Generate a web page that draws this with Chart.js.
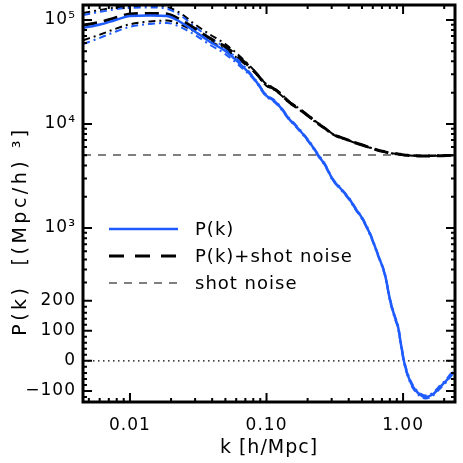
<!DOCTYPE html>
<html>
<head>
<meta charset="utf-8">
<script src="https://cdn.jsdelivr.net/npm/chart.js"></script>
<style>
  html, body { margin: 0; padding: 0; background: #fff; }
  canvas { display: block; }
</style>
</head>
<body>
<canvas id="pkChart" width="463" height="463"></canvas>
<script>
// --- data ---
const K = [0.00455, 0.00603, 0.00776, 0.0100, 0.0140, 0.0187, 0.0232, 0.0299, 0.0386, 0.0497,
           0.0673, 0.0824, 0.100, 0.1116, 0.1256, 0.1486, 0.1618, 0.2084, 0.2384, 0.2683,
           0.3070, 0.3455, 0.4090, 0.4450, 0.5008, 0.5731, 0.6558, 0.7382, 0.8031, 0.8739,
           0.9192, 0.9667, 1.017, 1.070, 1.125, 1.184, 1.288, 1.450, 1.632, 1.867, 2.101, 2.325];

const P_K = [83700, 90200, 99300, 109000, 110400, 109000, 96000, 77400, 61400, 50400,
             35300, 26500, 18600, 17000, 14600, 10900, 9780, 6560, 5035, 4035,
             2895, 2425, 1860, 1557, 1247, 875, 550, 353, 203, 143,
             113, 53, -3, -40, -67, -87, -107, -120, -113, -87, -63, -37];

const P_SHOT = [88740, 95240, 104340, 114040, 115440, 114040, 101040, 82440, 66440, 55440,
                40340, 31540, 23640, 22040, 19640, 15940, 14820, 11600, 10075, 9075,
                7935, 7465, 6900, 6597, 6287, 5915, 5590, 5393, 5243, 5183,
                5153, 5093, 5037, 5000, 4973, 4953, 4933, 4920, 4927, 4953, 4977, 5003];

const P_K_HI = [111600, 119400, 126200, 130400, 131800, 127600, 111600, 85700, 67200, 53800,
                36900, 27000, 19000, 17350, 14900, 11100, 9980, 6690, 5140, 4120,
                2950, 2470, 1900, 1590, 1270, 895, 560, 360, 208, 148,
                118, 58, 2, -35, -62, -82, -102, -115, -108, -82, -58, -32];

const P_K_LO = [58700, 67200, 76700, 85700, 91500, 93600, 85700, 71800, 57500, 47100,
                33800, 26000, 18200, 16650, 14300, 10700, 9580, 6430, 4930, 3950,
                2840, 2380, 1820, 1525, 1220, 855, 540, 346, 198, 138,
                108, 48, -8, -45, -72, -92, -112, -125, -118, -92, -68, -42];

const P_SHOT_HI = [116640, 124440, 131240, 135440, 136840, 132640, 116640, 90740, 72240, 58840,
                   41940, 32040, 24040, 22390, 19940, 16140, 15020, 11730, 10180, 9160,
                   7990, 7510, 6940, 6630, 6310, 5935, 5600, 5400, 5248, 5188,
                   5158, 5098, 5042, 5005, 4978, 4958, 4938, 4925, 4932, 4958, 4982, 5008];

const P_SHOT_LO = [63740, 72240, 81740, 90740, 96540, 98640, 90740, 76840, 62540, 52140,
                   38840, 31040, 23240, 21690, 19340, 15740, 14620, 11470, 9970, 8990,
                   7880, 7420, 6860, 6565, 6260, 5895, 5580, 5386, 5238, 5178,
                   5148, 5088, 5032, 4995, 4968, 4948, 4928, 4915, 4922, 4948, 4972, 4998];

const SHOT_NOISE = 5040;

const X_RANGE = [0.00453, 2.40];
const Y_RANGE = [-137, 139000];

const X_TICKS = [0.01, 0.1, 1];
const X_TICK_LABELS = ['0.01', '0.10', '1.00'];
const X_MINOR = [0.005, 0.006, 0.007, 0.008, 0.009, 0.02, 0.03, 0.04, 0.05, 0.06, 0.07, 0.08, 0.09,
                 0.2, 0.3, 0.4, 0.5, 0.6, 0.7, 0.8, 0.9, 2];

const Y_TICKS = [-100, 0, 100, 200, 1000, 10000, 100000];
const Y_TICK_LABELS = ['\u2212100', '0', '100', '200', '10\u00b3', '10\u2074', '10\u2075'];
const Y_MINOR = [-120, -80, -60, -40, -20, 20, 40, 60, 80, 120, 140, 160, 180,
                 300, 400, 500, 600, 700, 800, 900,
                 2000, 3000, 4000, 5000, 6000, 7000, 8000, 9000,
                 20000, 30000, 40000, 50000, 60000, 70000, 80000, 90000];

const LEGEND_LABELS = ['P(k)', 'P(k)+shot noise', 'shot noise'];

const BLUE = '#1f5cff';
const FONT = 'DejaVu Sans';

// linear below 200, logarithmic above (same look as the original axis)
const BREAK = 200;
const LIN_K = 0.0028846;
function tf(v) {
  return v >= BREAK ? Math.log10(v / BREAK) : (v - BREAK) * LIN_K;
}
function tfInv(t) {
  return t >= 0 ? BREAK * Math.pow(10, t) : BREAK + t / LIN_K;
}

class PiecewiseScale extends Chart.Scale {
  static id = 'piecewise';
  static defaults = {};
  determineDataLimits() {
    this.min = this.options.min;
    this.max = this.options.max;
  }
  buildTicks() {
    return Y_TICKS.map(v => ({ value: v }));
  }
  getLabelForValue(v) { return String(v); }
  getPixelForTick(i) { return this.getPixelForValue(this.ticks[i].value); }
  getPixelForValue(v) {
    const t0 = tf(this.min), t1 = tf(this.max);
    return this.getPixelForDecimal((tf(v) - t0) / (t1 - t0));
  }
  getValueForPixel(p) {
    const t0 = tf(this.min), t1 = tf(this.max);
    return tfInv(t0 + this.getDecimalForPixel(p) * (t1 - t0));
  }
}
Chart.register(PiecewiseScale);

function pts(ys) {
  return K.map((k, i) => ({ x: k, y: ys[i] }));
}

// frame, inward ticks on all sides, legend and y title
const decorations = {
  id: 'decorations',
  beforeDraw(chart) {
    chart.ctx.letterSpacing = '1px';
  },
  afterDatasetsDraw(chart) {
    const { ctx, chartArea: a, scales: { x, y } } = chart;
    ctx.save();
    ctx.strokeStyle = '#000';
    ctx.lineWidth = 2;
    ctx.setLineDash([]);
    const xt = (v, len) => {
      const px = x.getPixelForValue(v);
      ctx.beginPath();
      ctx.moveTo(px, a.bottom); ctx.lineTo(px, a.bottom - len);
      ctx.moveTo(px, a.top); ctx.lineTo(px, a.top + len);
      ctx.stroke();
    };
    const yt = (v, len) => {
      const py = y.getPixelForValue(v);
      ctx.beginPath();
      ctx.moveTo(a.left, py); ctx.lineTo(a.left + len, py);
      ctx.moveTo(a.right, py); ctx.lineTo(a.right - len, py);
      ctx.stroke();
    };
    X_TICKS.forEach(v => xt(v, 9));
    X_MINOR.forEach(v => xt(v, 4));
    Y_TICKS.forEach(v => yt(v, 9));
    Y_MINOR.forEach(v => yt(v, 4));

    ctx.lineWidth = 3;
    ctx.strokeRect(a.left, a.top, a.right - a.left, a.bottom - a.top);

    // legend
    const styles = [
      { color: BLUE, width: 2.5, dash: [] },
      { color: '#000', width: 3, dash: [15, 11] },
      { color: '#555', width: 1.5, dash: [8, 7] }
    ];
    ctx.font = '18px "' + FONT + '"';
    ctx.textBaseline = 'middle';
    ctx.textAlign = 'left';
    ctx.fillStyle = '#000';
    LEGEND_LABELS.forEach((lab, i) => {
      const ly = 229 + i * 27;
      const s = styles[i];
      ctx.strokeStyle = s.color;
      ctx.lineWidth = s.width;
      ctx.setLineDash(s.dash);
      ctx.beginPath();
      ctx.moveTo(109, ly); ctx.lineTo(178, ly);
      ctx.stroke();
      ctx.fillText(lab, 195, ly + 1);
    });

    // y axis title
    ctx.setLineDash([]);
    ctx.translate(21, 231);
    ctx.rotate(-Math.PI / 2);
    ctx.textAlign = 'center';
    ctx.font = '19px "' + FONT + '"';
    ctx.letterSpacing = '3.5px';
    ctx.fillText('P(k)  [(Mpc/h) \u00b3]', 0, 0);
    ctx.restore();
  },
  afterDraw(chart) {
    chart.ctx.letterSpacing = '0px';
  }
};

new Chart(document.getElementById('pkChart').getContext('2d'), {
  type: 'line',
  data: {
    datasets: [
      { label: 'P(k)', data: pts(P_K), borderColor: BLUE, borderWidth: 2.5 },
      { label: 'P(k)+shot noise', data: pts(P_SHOT), borderColor: '#000', borderWidth: 3, borderDash: [14, 7] },
      { label: 'P(k) upper', data: pts(P_K_HI), borderColor: BLUE, borderWidth: 2, borderDash: [7, 4, 2, 4] },
      { label: 'P(k) lower', data: pts(P_K_LO), borderColor: BLUE, borderWidth: 2, borderDash: [7, 4, 2, 4] },
      { label: 'P(k)+shot upper', data: pts(P_SHOT_HI), borderColor: '#000', borderWidth: 2, borderDash: [7, 4, 2, 4] },
      { label: 'P(k)+shot lower', data: pts(P_SHOT_LO), borderColor: '#000', borderWidth: 2, borderDash: [7, 4, 2, 4] },
      { label: 'shot noise', data: [{ x: X_RANGE[0], y: SHOT_NOISE }, { x: X_RANGE[1], y: SHOT_NOISE }],
        borderColor: '#555', borderWidth: 1.5, borderDash: [8, 7] },
      { label: 'zero', data: [{ x: X_RANGE[0], y: 0 }, { x: X_RANGE[1], y: 0 }],
        borderColor: '#000', borderWidth: 1.3, borderDash: [1.5, 3.5] }
    ]
  },
  options: {
    responsive: false,
    animation: false,
    devicePixelRatio: 1,
    layout: { padding: { top: 5, right: 8, left: 0, bottom: 0 } },
    elements: {
      point: { radius: 0 },
      line: { cubicInterpolationMode: 'monotone', fill: false }
    },
    plugins: {
      legend: { display: false },
      tooltip: { enabled: false }
    },
    scales: {
      x: {
        type: 'logarithmic',
        min: X_RANGE[0],
        max: X_RANGE[1],
        afterBuildTicks: s => { s.ticks = X_TICKS.map(v => ({ value: v, major: true })); },
        afterFit: s => { s.height = 61; s.paddingLeft = 0; s.paddingRight = 0; },
        grid: { display: false, drawTicks: false },
        border: { display: false },
        ticks: {
          autoSkip: false, maxRotation: 0, padding: 13, color: '#000',
          font: { family: FONT, size: 17 },
          callback: (v, i) => X_TICK_LABELS[i]
        },
        title: {
          display: true, text: 'k [h/Mpc]', color: '#000',
          font: { family: FONT, size: 19 },
          padding: { top: 0, bottom: 4 }
        }
      },
      y: {
        type: 'piecewise',
        min: Y_RANGE[0],
        max: Y_RANGE[1],
        afterFit: s => { s.width = 83; s.paddingTop = 0; s.paddingBottom = 0; },
        grid: { display: false, drawTicks: false },
        border: { display: false },
        ticks: {
          autoSkip: false, padding: 7, color: '#000',
          font: { family: FONT, size: 17 },
          callback: (v, i) => Y_TICK_LABELS[i]
        }
      }
    }
  },
  plugins: [decorations]
});
</script>
</body>
</html>
